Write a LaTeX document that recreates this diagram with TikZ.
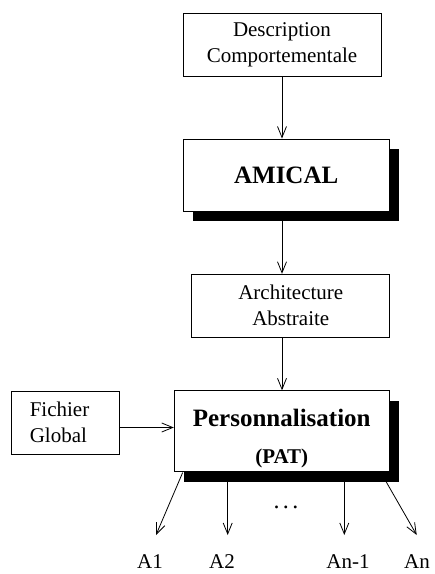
\documentclass[tikz,border=0pt]{standalone}
\usepackage{fontspec}
\setmainfont{Liberation Serif}
\usetikzlibrary{arrows.meta,shadows}
\begin{document}
\begin{tikzpicture}[x=1pt,y=-1pt,
  box/.style={draw, line width=0.8pt, fill=white, rectangle, inner sep=0pt,
    align=center, font=\fontsize{21}{26}\selectfont},
  heavybox/.style={box, drop shadow={shadow xshift=10pt, shadow yshift=-10pt,
    opacity=1, fill=black}},
  conn/.style={line width=0.8pt, -{Straight Barb[length=11pt,width=9pt]}},
  lbl/.style={font=\fontsize{21}{26}\selectfont, anchor=base, inner sep=0pt}
]
\useasboundingbox (0,0) rectangle (435,574);

% main chain
\node[box, minimum width=198pt, minimum height=63pt] (desc) at (282,44.5)
  {Description\\Comportementale};
\node[heavybox, minimum width=206pt, minimum height=72pt,
  font=\fontsize{25}{30}\selectfont\bfseries] (amical) at (286.2,174.9) {AMICAL};
\node[box, minimum width=198pt, minimum height=63pt] (archi) at (290.8,305.7)
  {Architecture\\Abstraite};
\node[heavybox, minimum width=215pt, minimum height=81pt] (perso) at (281.7,431.2) {};
\node[font=\fontsize{25}{30}\selectfont\bfseries, anchor=base, inner sep=0pt]
  (persot) at (281.7,426.7) {Personnalisation};
\node[font=\fontsize{21}{26}\selectfont\bfseries, anchor=base, inner sep=0pt]
  (pat) at (281.7,463) {(PAT)};
\node[box, minimum width=108pt, minimum height=63pt] (fich) at (65.8,422.5) {};
\node[font=\fontsize{21}{26}\selectfont, align=left, inner sep=0pt]
  (ficht) at (59.5,422.5) {Fichier\\Global};

\draw[conn] (desc.south) -- (desc.south |- amical.north);
\draw[conn] (desc.south |- amical.south) -- (desc.south |- archi.north);
\draw[conn] (desc.south |- archi.south) -- (desc.south |- perso.north);
\draw[conn] ([yshift=-5pt]fich.east) -- ([yshift=-5pt]fich.east -| perso.west);

% outputs
\node[lbl] (a1) at (150,568) {A1};
\node[lbl] (a2) at (222,568) {A2};
\node[lbl] (an1) at (348,568) {An-1};
\node[lbl] (an) at (417,568) {An};
\node[lbl, font=\fontsize{24}{28}\selectfont] (dots) at (286,508.5)
  {.\hspace{3.5pt}.\hspace{3.5pt}.};

\coordinate (s1) at (182.7,472.5);
\coordinate (e1) at (156,535);
\coordinate (s2) at (227.7,481);
\coordinate (e2) at (227.7,535);
\coordinate (s3) at (344.3,481);
\coordinate (e3) at (344.3,535);
\coordinate (s4) at (386,481.5);
\coordinate (e4) at (416.7,535);
\draw[conn] (s1) -- (e1);
\draw[conn] (s2) -- (e2);
\draw[conn] (s3) -- (e3);
\draw[conn] (s4) -- (e4);
\end{tikzpicture}
\end{document}
